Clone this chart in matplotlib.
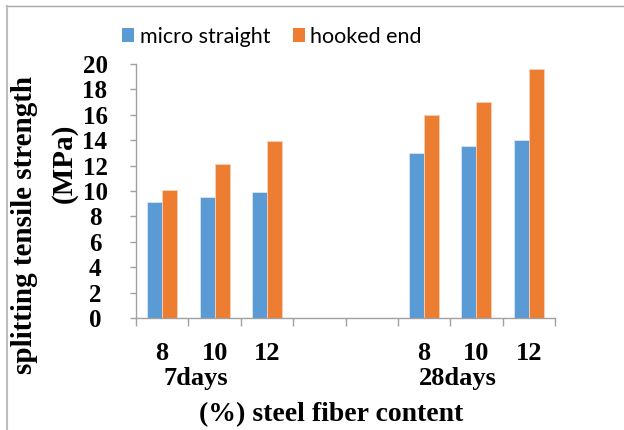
import matplotlib
matplotlib.use('Agg')
import matplotlib.pyplot as plt
import numpy as np
from matplotlib.lines import Line2D
from matplotlib.patches import Patch
import matplotlib.transforms as mtransforms

# ---- data ----
ages = ['7days', '28days']
fiber_content = ['8', '10', '12']
series_names = ['micro straight', 'hooked end']
micro_straight = [9.1, 9.55, 9.9, 13.0, 13.55, 14.05]
hooked_end = [10.1, 12.1, 13.9, 16.0, 17.0, 19.6]
y_ticks = list(range(0, 21, 2))

colors = ['#5B9BD5', '#ED7D31']
serif = 'Liberation Serif'

W, H = 624, 430
fig = plt.figure(figsize=(W / 100, H / 100), dpi=100)
ax = fig.add_axes([136 / W, 1 - 318 / H, (555 - 136) / W, (318 - 64) / H])

# category slots: 3 per age group, two empty slots between groups
slots = np.array([0, 1, 2, 5, 6, 7])
n_slots = 8
bw = 0.286
ax.bar(slots - bw / 2, micro_straight, bw, color=colors[0],
       edgecolor='#D6E6F5', linewidth=0.6, label=series_names[0])
ax.bar(slots + bw / 2, hooked_end, bw, color=colors[1],
       edgecolor='#F8D0B5', linewidth=0.6, label=series_names[1])

ax.set_xlim(-0.5, n_slots - 0.5)
ax.set_ylim(0, 20)

# spines
for s in ['top', 'right']:
    ax.spines[s].set_visible(False)
for s in ['left', 'bottom']:
    ax.spines[s].set_color('#A0A0A0')
    ax.spines[s].set_linewidth(1.0)

# x ticks: labels at centres, tick marks at slot boundaries
ax.set_xticks(slots)
ax.set_xticklabels(fiber_content * 2, fontfamily=serif, fontweight='bold',
                   fontsize=19)
ax.tick_params(axis='x', which='major', length=0, pad=17.5)
ax.set_xticks(np.arange(-0.5, n_slots, 1.0), minor=True)
ax.tick_params(axis='x', which='minor', length=6, width=1.0,
               color='#A0A0A0', direction='out')

# y ticks
ax.set_yticks(y_ticks)
ax.set_yticklabels([str(v) for v in y_ticks], fontfamily=serif,
                   fontweight='bold', fontsize=18)
ax.tick_params(axis='y', length=4.5, width=1.0, color='#A0A0A0',
               direction='out', pad=25)
for lab in ax.get_yticklabels():
    lab.set_horizontalalignment('center')

# group labels (age)
trans = mtransforms.blended_transform_factory(ax.transData, fig.transFigure)
group_first = [0, 5]
for g, name in zip(group_first, ages):
    ax.text(g + 0.645, 1 - 385 / H, name, transform=trans, ha='center',
            va='baseline', fontfamily=serif, fontweight='bold', fontsize=19)

# axis titles
fig.text(331 / W, 1 - 421 / H, '(%) steel fiber content', ha='center',
         va='baseline', fontfamily=serif, fontweight='bold', fontsize=20)
fig.text(25 / W, 1 - 225 / H, 'splitting tensile strength', rotation=90,
         ha='center', va='center', fontfamily=serif, fontweight='bold',
         fontsize=21)
fig.text(64 / W, 1 - 163 / H, '(MPa)', rotation=90,
         ha='center', va='center', fontfamily=serif, fontweight='bold',
         fontsize=21)

# legend
handles = [Patch(facecolor=colors[0]), Patch(facecolor=colors[1])]
fig.legend(handles, series_names, loc='center left',
           bbox_to_anchor=(122 / W, 1 - 37 / H), ncol=2, frameon=False,
           prop={'family': 'Lato', 'size': 15.5}, handlelength=0.57,
           handleheight=0.62, handletextpad=0.25, columnspacing=1.05,
           borderaxespad=0, borderpad=0)

# outer border (top and left only)
fig.add_artist(Line2D([6 / W, 1], [1 - 5.5 / H, 1 - 5.5 / H],
                      transform=fig.transFigure, color='#A6A6A6', lw=1.0))
fig.add_artist(Line2D([7 / W, 7 / W], [0, 1 - 5.5 / H],
                      transform=fig.transFigure, color='#BDBDBD', lw=1.5))

fig.savefig('out.png', dpi=100)
